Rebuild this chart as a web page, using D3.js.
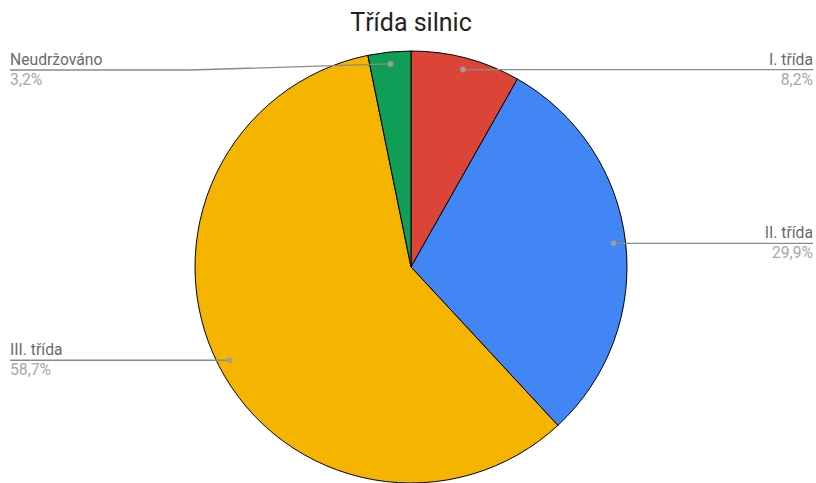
<!DOCTYPE html>
<html>
<head>
<meta charset="utf-8">
<script src="https://cdn.jsdelivr.net/npm/d3@7"></script>
<style>
  body { margin: 0; background: #fff; }
  text { font-family: Roboto, "Noto Sans", sans-serif; }
</style>
</head>
<body>
<svg id="chart"></svg>
<script>
// Třída silnic - podíl kategorií
const categories = ["I. třída", "II. třída", "III. třída", "Neudržováno"];
const values = [8.2, 29.9, 58.7, 3.2];
const colors = ["#db4437", "#4285f4", "#f4b400", "#0f9d58"];
const valueLabels = ["8,2%", "29,9%", "58,7%", "3,2%"];

const width = 816;
const height = 483;
const cx = 411, cy = 267, radius = 216;

const svg = d3.select("#chart")
    .attr("width", width)
    .attr("height", height);

svg.append("text")
    .attr("x", cx)
    .attr("y", 31)
    .attr("text-anchor", "middle")
    .style("font-size", "25px")
    .style("fill", "#222")
    .text("Třída silnic");

const data = categories.map((c, i) => ({ name: c, value: values[i], color: colors[i], label: valueLabels[i] }));

const pie = d3.pie().value(d => d.value).sort(null);
const arc = d3.arc().innerRadius(0).outerRadius(radius);
const arcs = pie(data);

const g = svg.append("g").attr("transform", `translate(${cx},${cy})`);

g.selectAll("path")
    .data(arcs)
    .enter().append("path")
    .attr("d", arc)
    .attr("fill", d => d.data.color)
    .attr("stroke", "#000")
    .attr("stroke-width", 1);

// labels: dot inside slice, leader line out to the edge
const dotR = radius * 0.945;
function dotPos(d) {
  const a = (d.startAngle + d.endAngle) / 2;
  return [cx + dotR * Math.sin(a), cy - dotR * Math.cos(a)];
}

const labels = svg.append("g");
arcs.forEach(d => {
  const [px, py] = dotPos(d);
  const right = px > cx && d.data.name !== "Neudržováno";
  const lineY = d.data.name === "Neudržováno" ? 70 : py;
  const endX = right ? 813 : 10;
  const pts = d.data.name === "Neudržováno"
    ? [[px, py], [190, lineY], [endX, lineY]]
    : [[px, py], [endX, lineY]];

  labels.append("path")
      .attr("d", d3.line()(pts))
      .attr("fill", "none")
      .attr("stroke", "#8a8a8a")
      .attr("stroke-width", 1.3);

  labels.append("circle")
      .attr("cx", px)
      .attr("cy", py)
      .attr("r", 2.8)
      .attr("fill", "#9e9e9e");

  labels.append("text")
      .attr("x", endX)
      .attr("y", lineY - 5)
      .attr("text-anchor", right ? "end" : "start")
      .style("font-size", "15.7px")
      .style("fill", "#6a6a6a")
      .text(d.data.name);

  labels.append("text")
      .attr("x", endX)
      .attr("y", lineY + 15)
      .attr("text-anchor", right ? "end" : "start")
      .style("font-size", "15.7px")
      .style("fill", "#a6a6a6")
      .text(d.data.label);
});
</script>
</body>
</html>
